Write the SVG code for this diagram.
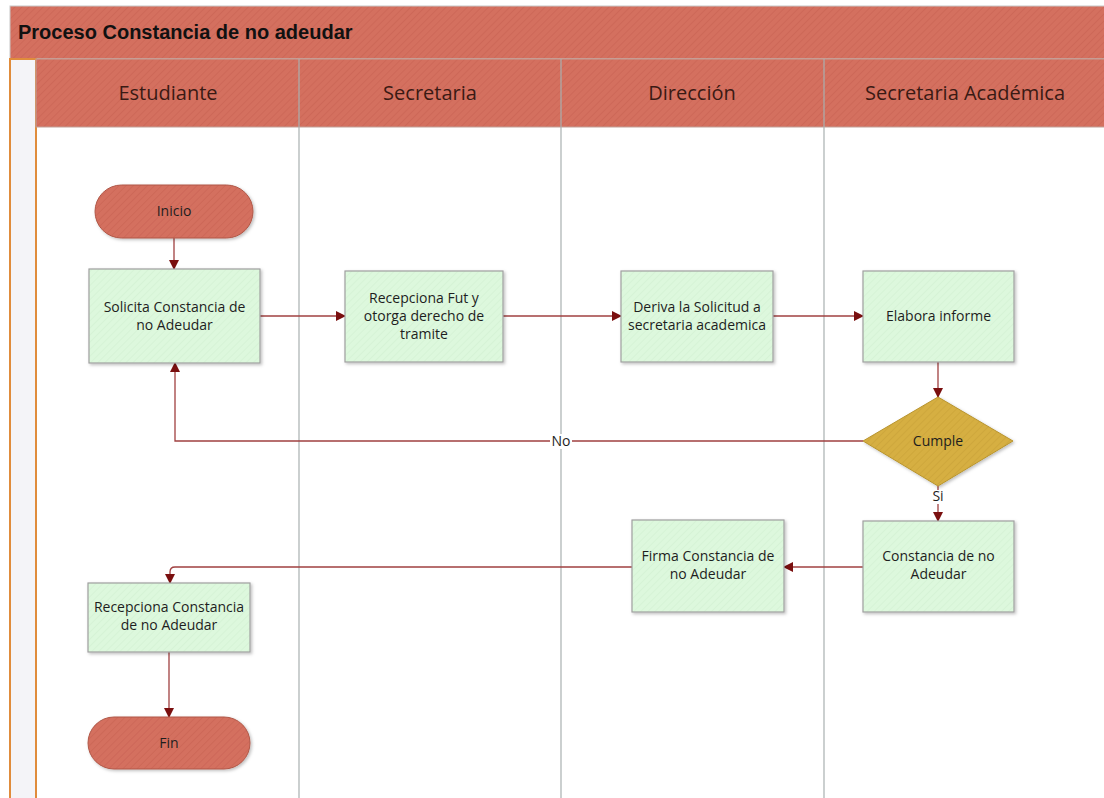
<svg xmlns="http://www.w3.org/2000/svg" width="1104" height="798" viewBox="0 0 1104 798">
<defs>
<pattern id="hr" width="5" height="5" patternUnits="userSpaceOnUse" patternTransform="rotate(45)">
<rect width="5" height="5" fill="#d4705f"/>
<line x1="0" y1="0" x2="0" y2="5" stroke="#cb6555" stroke-width="1.5"/>
</pattern>
<pattern id="hg" width="5" height="5" patternUnits="userSpaceOnUse" patternTransform="rotate(45)">
<rect width="5" height="5" fill="#ddf8dd"/>
<line x1="0" y1="0" x2="0" y2="5" stroke="#d4f2d4" stroke-width="1.5"/>
</pattern>
<pattern id="hy" width="5" height="5" patternUnits="userSpaceOnUse" patternTransform="rotate(45)">
<rect width="5" height="5" fill="#d6af42"/>
<line x1="0" y1="0" x2="0" y2="5" stroke="#cca53a" stroke-width="1.5"/>
</pattern>
<marker id="ah" markerWidth="10" markerHeight="10" refX="9" refY="5" orient="auto" markerUnits="userSpaceOnUse">
<path d="M0,0 L10,5 L0,10 z" fill="#7a0f0f"/>
</marker>
<filter id="sh" x="-10%" y="-10%" width="130%" height="130%">
<feDropShadow dx="1.5" dy="1.5" stdDeviation="1.5" flood-color="#000" flood-opacity="0.25"/>
</filter>
</defs>
<style>
.lbl{font-family:"Open Sans","Noto Sans","DejaVu Sans",sans-serif;font-size:14px;fill:#1e1e1e;text-anchor:middle}
.hdr{font-family:"Open Sans","Noto Sans","DejaVu Sans",sans-serif;font-size:20px;fill:#3a1a14;text-anchor:middle}
.title{font-family:"Liberation Sans",Arial,sans-serif;font-size:20px;font-weight:bold;fill:#111}
.proc{fill:url(#hg);stroke:#a0a0a0;stroke-width:1.2;filter:url(#sh)}
.term{fill:url(#hr);stroke:#b05848;stroke-width:1;filter:url(#sh)}
.dec{fill:url(#hy);stroke:#b8942e;stroke-width:1;filter:url(#sh)}
.conn{fill:none;stroke:#a04040;stroke-width:1.3;marker-end:url(#ah)}
.lane{stroke:#a8b0b0;stroke-width:1.2}
.small{font-family:"Open Sans","Noto Sans","DejaVu Sans",sans-serif;font-size:14px;fill:#1e1e1e;text-anchor:middle}
</style>
<rect width="1104" height="798" fill="#ffffff"/>
<g id="pool">
<rect x="10" y="6" width="1100" height="53" fill="url(#hr)" stroke="#c8c8c8" stroke-width="1"/>
<text class="title" x="18" y="39">Proceso Constancia de no adeudar</text>
<rect x="10" y="59" width="26" height="745" fill="#f4f4f8" stroke="#e08c3c" stroke-width="2"/>
<rect x="36" y="59" width="1074" height="68" fill="url(#hr)" stroke="#c0a098" stroke-width="1"/>
<line class="lane" x1="299" y1="59" x2="299" y2="798"/>
<line class="lane" x1="561" y1="59" x2="561" y2="798"/>
<line class="lane" x1="824" y1="59" x2="824" y2="798"/>
<text class="hdr" x="168" y="100">Estudiante</text>
<text class="hdr" x="430" y="100">Secretaria</text>
<text class="hdr" x="692" y="100">Dirección</text>
<text class="hdr" x="965" y="100">Secretaria Académica</text>
</g>
<g id="connectors">
<path class="conn" d="M174,238 L174,269"/>
<path class="conn" d="M260,316 L345,316"/>
<path class="conn" d="M503,316 L621,316"/>
<path class="conn" d="M773,316 L863,316"/>
<path class="conn" d="M938,362 L938,397"/>
<path class="conn" d="M863,441 L175,441 L175,363"/>
<path class="conn" d="M938,486 L938,521"/>
<path class="conn" d="M863,567 L784,567"/>
<path class="conn" d="M632,567 L175,567 Q170,567 170,572 L170,583"/>
<path class="conn" d="M169,652 L169,717"/>
<rect x="550" y="434" width="22" height="15" fill="#ffffff"/>
<text class="small" x="561" y="446">No</text>
<rect x="930" y="490" width="16" height="14" fill="#ffffff"/>
<text class="small" x="938" y="501">Si</text>
</g>
<g id="n-inicio">
<rect class="term" x="95" y="185" width="158" height="53" rx="26.5"/>
<text class="lbl" x="174" y="216">Inicio</text>
</g>
<g id="n-solicita">
<rect class="proc" x="89" y="269" width="171" height="94"/>
<text class="lbl" x="174.5" y="312">Solicita Constancia de</text>
<text class="lbl" x="174.5" y="330">no Adeudar</text>
</g>
<g id="n-recepciona-fut">
<rect class="proc" x="345" y="271" width="158" height="91"/>
<text class="lbl" x="424" y="303">Recepciona Fut y</text>
<text class="lbl" x="424" y="321">otorga derecho de</text>
<text class="lbl" x="424" y="339">tramite</text>
</g>
<g id="n-deriva">
<rect class="proc" x="621" y="271" width="152" height="91"/>
<text class="lbl" x="697" y="312">Deriva la Solicitud a</text>
<text class="lbl" x="697" y="330">secretaria academica</text>
</g>
<g id="n-elabora">
<rect class="proc" x="863" y="271" width="151" height="91"/>
<text class="lbl" x="938.5" y="321">Elabora informe</text>
</g>
<g id="n-cumple">
<polygon class="dec" points="938,397 1013,441 938,486 863,441"/>
<text class="lbl" x="938" y="446">Cumple</text>
</g>
<g id="n-constancia">
<rect class="proc" x="863" y="521" width="151" height="91"/>
<text class="lbl" x="938.5" y="561">Constancia de no</text>
<text class="lbl" x="938.5" y="579">Adeudar</text>
</g>
<g id="n-firma">
<rect class="proc" x="632" y="520" width="152" height="92"/>
<text class="lbl" x="708" y="561">Firma Constancia de</text>
<text class="lbl" x="708" y="579">no Adeudar</text>
</g>
<g id="n-recepciona-constancia">
<rect class="proc" x="88" y="583" width="162" height="69"/>
<text class="lbl" x="169" y="612">Recepciona Constancia</text>
<text class="lbl" x="169" y="630">de no Adeudar</text>
</g>
<g id="n-fin">
<rect class="term" x="88" y="717" width="162" height="52" rx="26"/>
<text class="lbl" x="169" y="748">Fin</text>
</g>
</svg>
